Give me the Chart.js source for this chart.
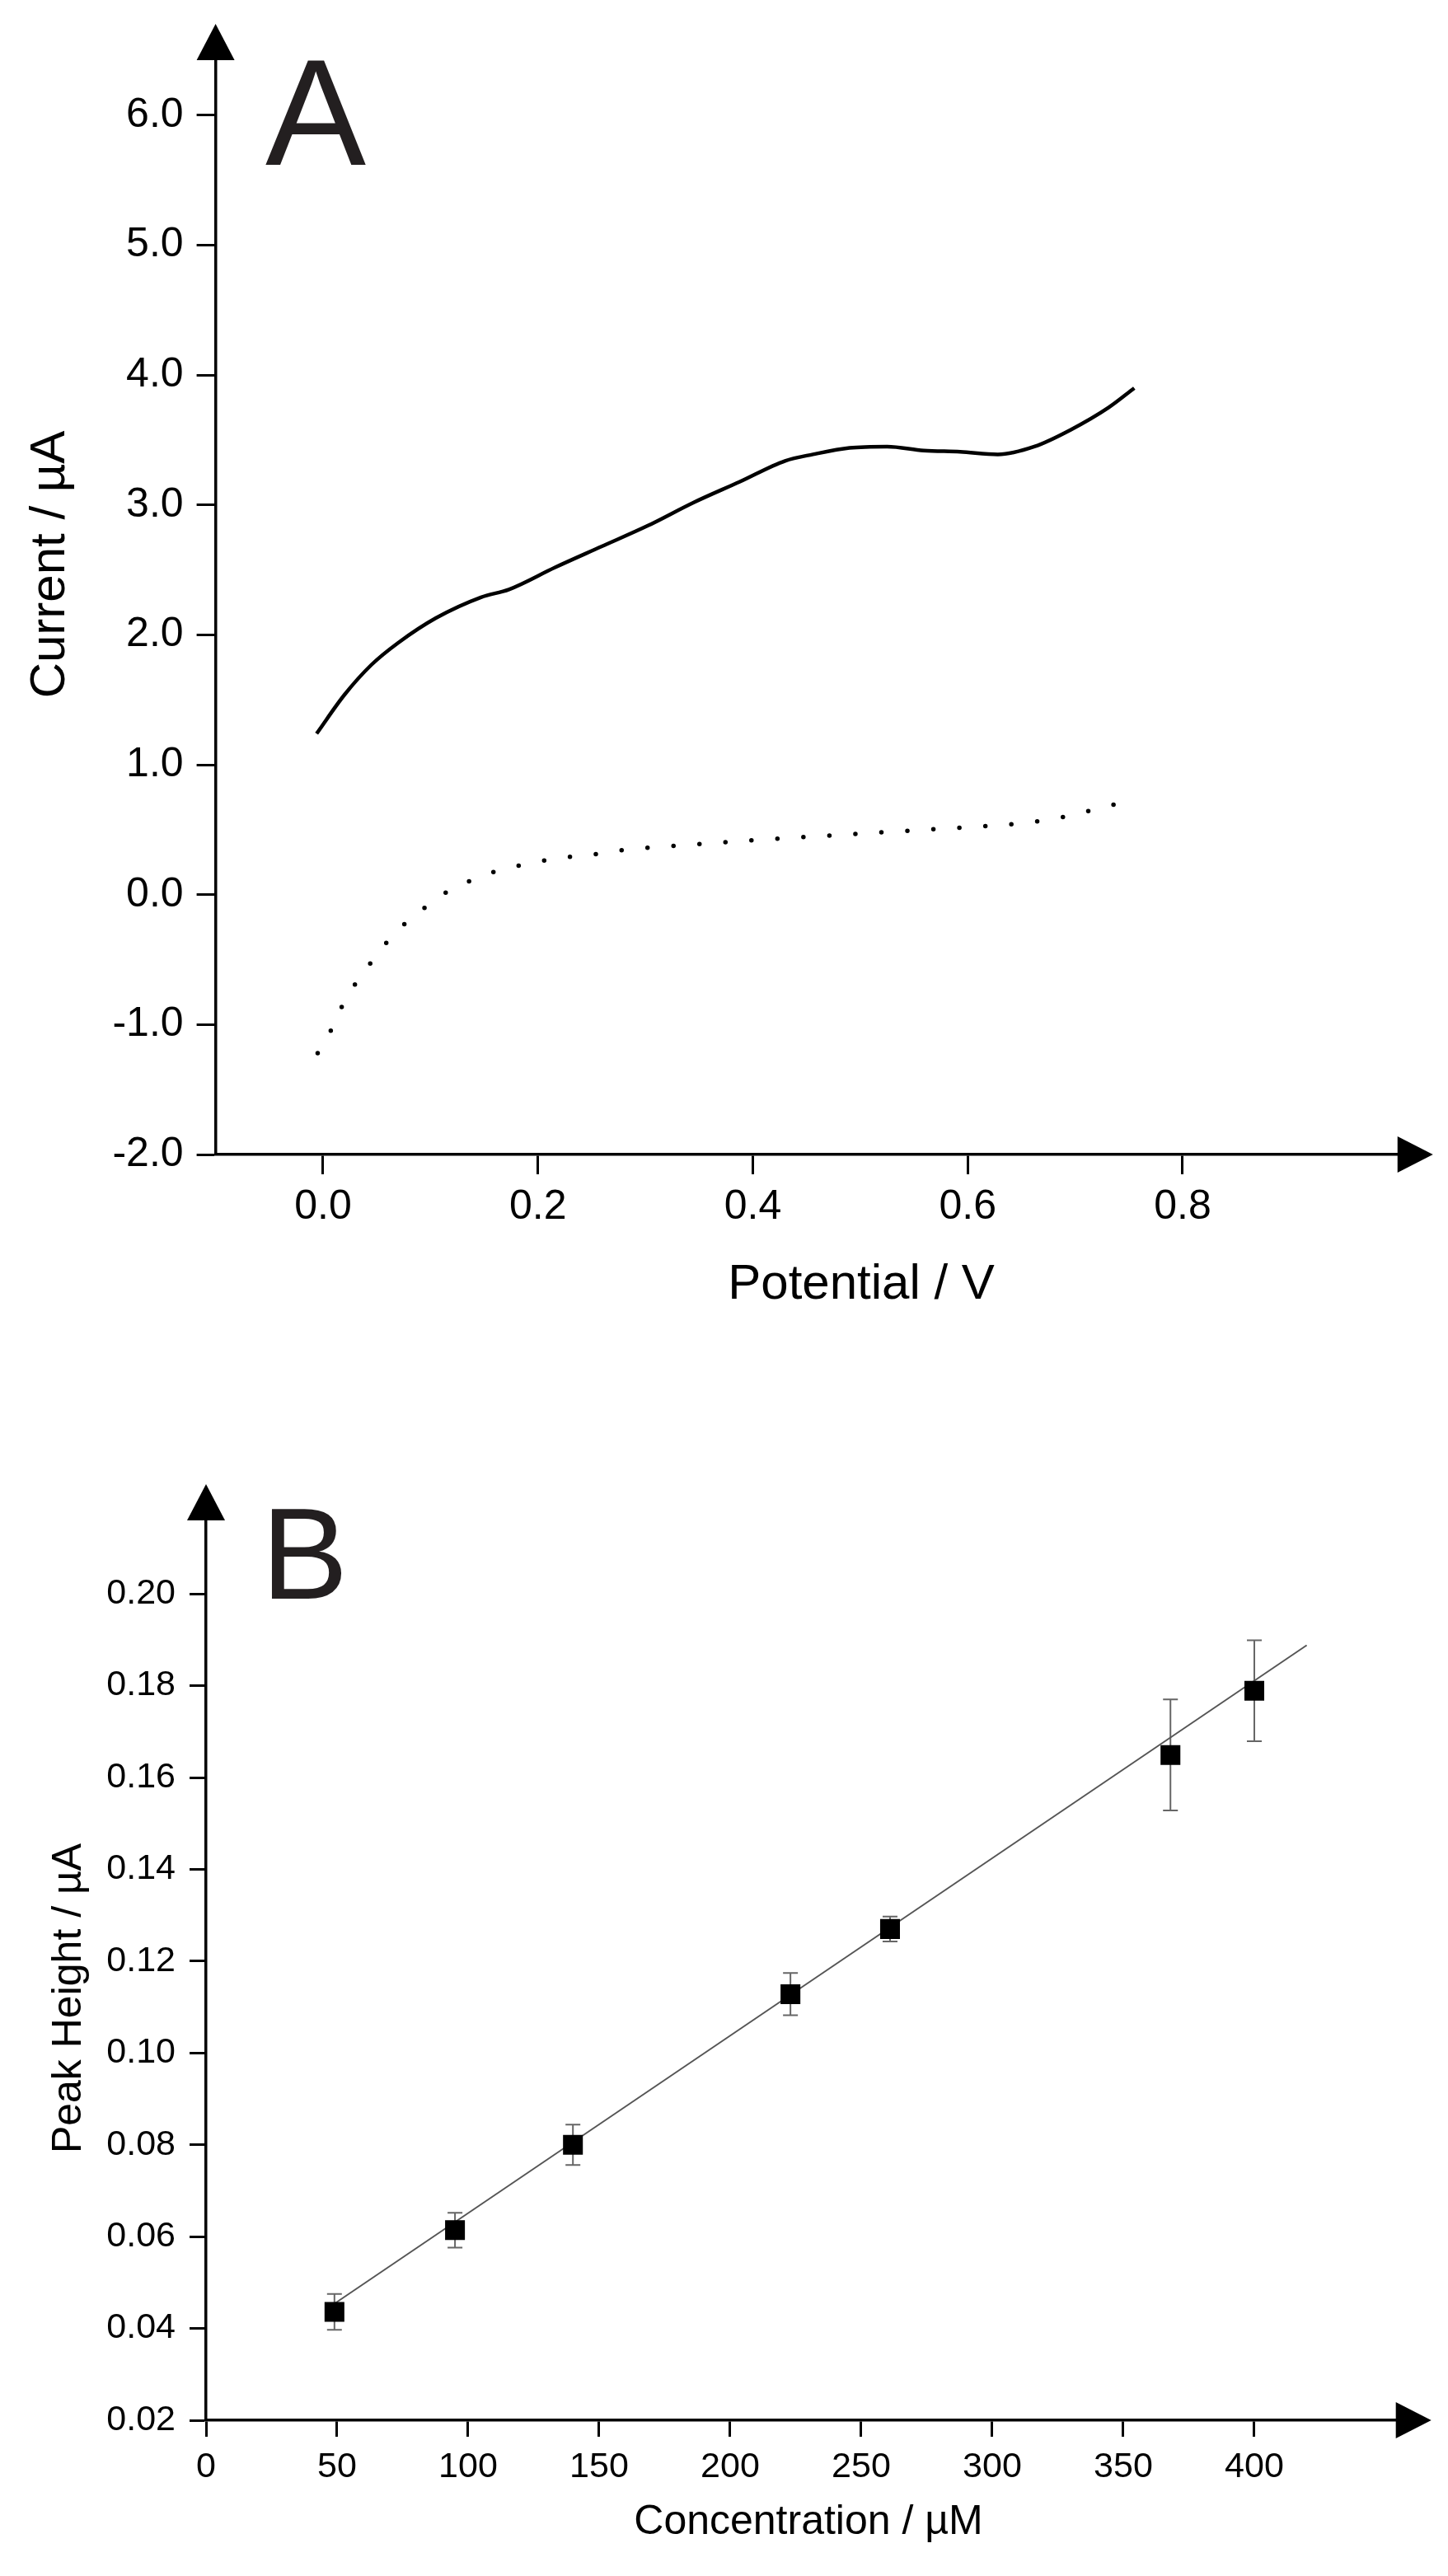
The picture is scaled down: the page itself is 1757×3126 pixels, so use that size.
<!DOCTYPE html>
<html>
<head>
<meta charset="utf-8">
<title>Current vs potential and calibration</title>
<script src="https://cdn.jsdelivr.net/npm/chart.js@4.4.1/dist/chart.umd.min.js"></script>
<style>
  html, body { margin: 0; padding: 0; background: #fff; }
  #wrap { position: relative; width: 1757px; height: 3126px; }
  canvas { position: absolute; left: 0; }
  #chartA { top: 0; }
  #chartB { top: 1640px; }
</style>
</head>
<body>
<div id="wrap">
  <canvas id="chartA" width="1757" height="1640"></canvas>
  <canvas id="chartB" width="1757" height="1486"></canvas>
</div>
<script>
// Panel A : current vs potential (solid and dotted trace)
const potentialSolid = [-0.006, 0.02, 0.045, 0.07, 0.105, 0.147, 0.173, 0.216, 0.259, 0.302, 0.345, 0.388, 0.43, 0.456, 0.49, 0.525, 0.559, 0.593, 0.628, 0.662, 0.696, 0.731, 0.755];
const currentSolid = [1.24, 1.54, 1.77, 1.94, 2.13, 2.29, 2.35, 2.52, 2.68, 2.84, 3.02, 3.18, 3.34, 3.39, 3.44, 3.45, 3.42, 3.41, 3.39, 3.45, 3.58, 3.75, 3.90];
const potentialDotted = [-0.005, 0.007, 0.017, 0.029, 0.043, 0.058, 0.074, 0.093, 0.113, 0.135, 0.157, 0.180, 0.204, 0.228, 0.252, 0.276, 0.300, 0.35, 0.40, 0.45, 0.50, 0.55, 0.60, 0.65, 0.69, 0.72, 0.755];
const currentDotted = [-1.22, -1.05, -0.87, -0.70, -0.54, -0.38, -0.24, -0.11, 0.01, 0.10, 0.17, 0.22, 0.26, 0.29, 0.31, 0.34, 0.36, 0.39, 0.42, 0.445, 0.47, 0.495, 0.52, 0.55, 0.60, 0.66, 0.735];
const potentialTicks = [0, 0.2, 0.4, 0.6, 0.8];
const currentTicks = [-2, -1, 0, 1, 2, 3, 4, 5, 6];

// Panel B : calibration (peak height vs concentration)
const concentration = [49, 95, 140, 223, 261, 368, 400];
const peakHeight = [0.0436, 0.0614, 0.080, 0.1128, 0.127, 0.1649, 0.1789];
const peakError = [0.0039, 0.0038, 0.0044, 0.0046, 0.0027, 0.0121, 0.011];
const fitConcentration = [49, 420];
const fitPeak = [0.0454, 0.1888];
const concentrationTicks = [0, 50, 100, 150, 200, 250, 300, 350, 400];
const peakTicks = [0.02, 0.04, 0.06, 0.08, 0.10, 0.12, 0.14, 0.16, 0.18, 0.20];

Chart.defaults.font.family = "'Liberation Sans', Arial, Helvetica, sans-serif";
Chart.defaults.color = '#000';

function toPoints(xs, ys) {
  return xs.map((x, i) => ({ x: x, y: ys[i] }));
}

// arrows, axis titles and panel letter, drawn on top of the chart
function decorations(o) {
  return {
    id: 'decor' + o.letter,
    afterDraw(chart) {
      const ctx = chart.ctx;
      const a = chart.chartArea;
      ctx.save();
      ctx.fillStyle = '#000';
      // y axis arrow
      ctx.beginPath();
      ctx.moveTo(a.left, a.top - 44);
      ctx.lineTo(a.left - 23, a.top);
      ctx.lineTo(a.left + 23, a.top);
      ctx.closePath();
      ctx.fill();
      // x axis arrow
      ctx.beginPath();
      ctx.moveTo(a.right + 43, a.bottom);
      ctx.lineTo(a.right, a.bottom - 22);
      ctx.lineTo(a.right, a.bottom + 22);
      ctx.closePath();
      ctx.fill();

      ctx.textAlign = 'center';
      ctx.textBaseline = 'alphabetic';
      ctx.font = o.titleSize + "px 'Liberation Sans', Arial, sans-serif";
      ctx.fillText(o.xTitle, o.xTitleX, o.xTitleY);
      ctx.save();
      ctx.translate(o.yTitleX, o.yTitleY);
      ctx.rotate(-Math.PI / 2);
      ctx.fillText(o.yTitle, 0, 0);
      ctx.restore();

      ctx.fillStyle = '#231f20';
      ctx.textAlign = 'left';
      ctx.font = o.letterSize + "px 'Liberation Sans', Arial, sans-serif";
      ctx.fillText(o.letter, o.letterX, o.letterY);
      ctx.restore();
    }
  };
}

const errorBars = {
  id: 'errorBars',
  beforeDatasetsDraw(chart) {
    const ctx = chart.ctx;
    const xs = chart.scales.x, ys = chart.scales.y;
    ctx.save();
    ctx.strokeStyle = '#666';
    ctx.lineWidth = 2;
    concentration.forEach((c, i) => {
      const px = xs.getPixelForValue(c);
      const top = ys.getPixelForValue(peakHeight[i] + peakError[i]);
      const bot = ys.getPixelForValue(peakHeight[i] - peakError[i]);
      ctx.beginPath();
      ctx.moveTo(px, top); ctx.lineTo(px, bot);
      ctx.moveTo(px - 9, top); ctx.lineTo(px + 9, top);
      ctx.moveTo(px - 9, bot); ctx.lineTo(px + 9, bot);
      ctx.stroke();
    });
    ctx.restore();
  }
};

function axis(min, max, tickValues, decimals, fontSize, tickLen, pad, size, horizontal) {
  return {
    type: 'linear',
    min: min,
    max: max,
    afterBuildTicks(scale) { scale.ticks = tickValues.map(v => ({ value: v })); },
    afterFit(scale) {
      if (horizontal) scale.height = size; else scale.width = size;
    },
    ticks: {
      autoSkip: false,
      maxRotation: 0,
      padding: pad,
      font: { size: fontSize },
      color: '#000',
      callback: v => Number(v).toFixed(decimals)
    },
    grid: {
      drawOnChartArea: false,
      drawTicks: true,
      tickLength: tickLen,
      tickWidth: 3,
      tickColor: '#000',
      color: '#000'
    },
    border: { display: true, color: '#000', width: 3.5 }
  };
}

// ---- Panel A ----
new Chart(document.getElementById('chartA'), {
  type: 'line',
  data: {
    datasets: [
      {
        data: toPoints(potentialSolid, currentSolid),
        borderColor: '#000',
        borderWidth: 4.5,
        pointRadius: 0,
        cubicInterpolationMode: 'monotone'
      },
      {
        data: toPoints(potentialDotted, currentDotted),
        borderColor: '#000',
        borderWidth: 5.5,
        borderDash: [0, 31.6],
        borderCapStyle: 'round',
        pointRadius: 0,
        cubicInterpolationMode: 'monotone'
      }
    ]
  },
  options: {
    responsive: false,
    devicePixelRatio: 1,
    animation: false,
    layout: { padding: { left: 0, top: 73, right: 61.25, bottom: 119 } },
    plugins: { legend: { display: false }, tooltip: { enabled: false } },
    scales: {
      x: axis(-0.1, 1.0, potentialTicks, 1, 50, 24, 10, 120, true),
      y: axis(-2, 6.425, currentTicks, 1, 50, 23, 16, 261.6, false)
    }
  },
  plugins: [decorations({
    letter: 'A', letterSize: 183, letterX: 322, letterY: 200,
    titleSize: 60,
    xTitle: 'Potential / V', xTitleX: 1045, xTitleY: 1576,
    yTitle: 'Current / µA', yTitleX: 78, yTitleY: 685
  })]
});

// ---- Panel B ----
new Chart(document.getElementById('chartB'), {
  type: 'scatter',
  data: {
    datasets: [
      {
        data: toPoints(concentration, peakHeight),
        pointStyle: 'rect',
        pointRadius: 17,
        backgroundColor: '#000',
        borderColor: '#000',
        borderWidth: 0
      },
      {
        type: 'line',
        data: toPoints(fitConcentration, fitPeak),
        borderColor: '#555',
        borderWidth: 2,
        pointRadius: 0,
        showLine: true
      }
    ]
  },
  options: {
    responsive: false,
    devicePixelRatio: 1,
    animation: false,
    layout: { padding: { left: 0, top: 205, right: 63.3, bottom: 69 } },
    plugins: { legend: { display: false }, tooltip: { enabled: false } },
    scales: {
      x: axis(0, 454, concentrationTicks, 0, 43, 20, 11, 120, true),
      y: axis(0.02, 0.216, peakTicks, 2, 43, 20, 17, 250, false)
    }
  },
  plugins: [errorBars, decorations({
    letter: 'B', letterSize: 158, letterX: 317, letterY: 300,
    titleSize: 50,
    xTitle: 'Concentration / µM', xTitleX: 981, xTitleY: 1435,
    yTitle: 'Peak Height / µA', yTitleX: 98, yTitleY: 785
  })]
});
</script>
</body>
</html>
